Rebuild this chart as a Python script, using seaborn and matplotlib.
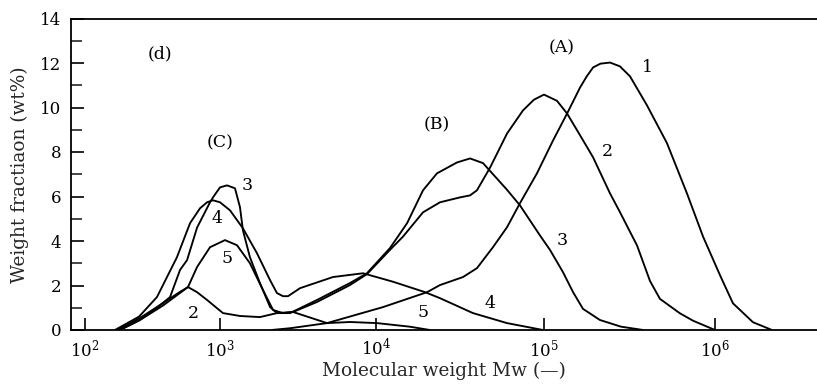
import numpy as np
import pandas as pd
import seaborn as sns
import matplotlib
matplotlib.use("Agg")
import matplotlib.pyplot as plt
from matplotlib.ticker import FixedLocator, FuncFormatter, MultipleLocator

# ---- data: log10(Mw) and weight fraction (wt%) for each run ----
log_mw_1 = [3.33, 3.45, 3.686, 4.042, 4.304, 4.381, 4.518, 4.601, 4.696, 4.78, 4.857, 4.958,
            5.053, 5.135, 5.211, 5.25, 5.287, 5.33, 5.386, 5.444, 5.503, 5.602, 5.719, 5.836,
            5.93, 6.03, 6.105, 6.222, 6.333]
wt_1 = [0.0, 0.08, 0.31, 1.03, 1.70, 2.02, 2.38, 2.78, 3.72, 4.62, 5.7, 7.04,
        8.52, 9.73, 10.9, 11.4, 11.8, 11.97, 12.02, 11.85, 11.4, 10.1, 8.4, 6.14,
        4.2, 2.45, 1.2, 0.35, 0.0]

log_mw_2 = [2.237, 2.407, 2.578, 2.70, 2.763, 2.83, 2.904, 3.019, 3.128, 3.256, 3.365, 3.468,
            3.622, 3.833, 3.942, 4.083, 4.161, 4.28, 4.381, 4.5, 4.56, 4.601, 4.679, 4.78,
            4.875, 4.94, 5.0, 5.076, 5.135, 5.211, 5.287, 5.386, 5.444, 5.544, 5.62,
            5.678, 5.795, 5.871, 6.0]
wt_2 = [0.0, 0.54, 1.21, 1.7, 1.93, 1.7, 1.35, 0.76, 0.63, 0.58, 0.76, 0.81,
        1.26, 2.02, 2.51, 3.6, 4.2, 5.29, 5.74, 5.96, 6.05, 6.28, 7.3, 8.83,
        9.87, 10.35, 10.58, 10.3, 9.73, 8.75, 7.76, 6.14, 5.3, 3.8, 2.2,
        1.4, 0.75, 0.42, 0.0]

log_mw_3 = [2.259, 2.407, 2.533, 2.63, 2.704, 2.756, 2.83, 2.926, 2.948, 3.0, 3.045,
            3.096, 3.128, 3.147, 3.192, 3.256, 3.321, 3.365, 3.449, 3.622, 3.833,
            3.942, 4.083, 4.185, 4.28, 4.363, 4.482, 4.56, 4.637, 4.78, 4.857, 4.976,
            5.035, 5.111, 5.17, 5.228, 5.327, 5.45, 5.58]
wt_3 = [0.0, 0.45, 1.0, 1.48, 2.7, 3.14, 4.6, 5.74, 5.96, 6.41, 6.5,
        6.37, 5.52, 4.48, 3.27, 2.11, 1.03, 0.76, 0.76, 1.35, 2.11,
        2.55, 3.68, 4.8, 6.28, 7.04, 7.53, 7.71, 7.5, 6.3, 5.6, 4.25,
        3.6, 2.6, 1.7, 0.95, 0.45, 0.15, 0.0]

log_mw_4 = [2.222, 2.4, 2.533, 2.681, 2.778, 2.852, 2.904, 2.948, 3.0, 3.064, 3.147,
            3.237, 3.321, 3.365, 3.404, 3.436, 3.513, 3.724, 3.917, 4.101, 4.292,
            4.381, 4.577, 4.78, 4.994]
wt_4 = [0.0, 0.6, 1.48, 3.27, 4.8, 5.47, 5.74, 5.83, 5.74, 5.38, 4.57,
        3.45, 2.24, 1.66, 1.52, 1.52, 1.88, 2.38, 2.55, 2.17, 1.70,
        1.43, 0.76, 0.31, 0.0]

log_mw_5 = [2.259, 2.407, 2.578, 2.763, 2.83, 2.926, 3.032, 3.109, 3.192, 3.276, 3.34,
            3.404, 3.468, 3.686, 3.833, 4.006, 4.2, 4.321]
wt_5 = [0.0, 0.45, 1.1, 1.93, 2.83, 3.72, 4.04, 3.81, 3.0, 1.79, 0.9,
        0.76, 0.81, 0.31, 0.36, 0.31, 0.15, 0.0]

runs = ["1", "2", "3", "4", "5"]
series = [(log_mw_1, wt_1), (log_mw_2, wt_2), (log_mw_3, wt_3),
          (log_mw_4, wt_4), (log_mw_5, wt_5)]

df = pd.concat(
    [pd.DataFrame({"Mw": 10.0 ** np.asarray(lm), "wt": w, "run": r})
     for r, (lm, w) in zip(runs, series)],
    ignore_index=True,
)

# curve labels: (text, log10 Mw, wt%)
curve_labels = [
    ("1", 5.606, 11.8), ("2", 5.368, 8.0), ("3", 5.105, 4.04),
    ("4", 4.679, 1.2), ("5", 4.28, 0.8),
    ("3", 3.173, 6.5), ("4", 2.978, 5.0), ("5", 3.045, 3.2), ("2", 2.80, 0.76),
]
group_labels = [("(A)", 5.105, 12.7), ("(B)", 4.363, 9.2),
                ("(C)", 3.0, 8.43), ("(d)", 2.556, 12.4)]

# ---- log axis with unequal decade widths ----
KL = np.array([2.0, 3.0, 4.0, 5.0, 6.0])
KP = np.array([0.0, 135.0, 291.0, 459.0, 630.0])
S0 = (KP[1] - KP[0]) / (KL[1] - KL[0])
S1 = (KP[-1] - KP[-2]) / (KL[-1] - KL[-2])


def _fwd(x):
    x = np.asarray(x, dtype=float)
    l = np.log10(np.clip(x, 1e-300, None))
    y = np.interp(l, KL, KP)
    y = np.where(l < KL[0], KP[0] + (l - KL[0]) * S0, y)
    y = np.where(l > KL[-1], KP[-1] + (l - KL[-1]) * S1, y)
    return y


def _inv(y):
    y = np.asarray(y, dtype=float)
    l = np.interp(y, KP, KL)
    l = np.where(y < KP[0], KL[0] + (y - KP[0]) / S0, l)
    l = np.where(y > KP[-1], KL[-1] + (y - KP[-1]) / S1, l)
    return 10.0 ** l


sns.set_theme(style="ticks")
plt.rcParams["font.family"] = ["DejaVu Serif"]
plt.rcParams["mathtext.fontset"] = "dejavuserif"

fig = plt.figure(figsize=(8.17, 3.87), dpi=100)
ax = fig.add_axes([71 / 817, 57 / 387, 746 / 817, 311.5 / 387])
ax.set_xscale("function", functions=(_fwd, _inv))

sns.lineplot(data=df, x="Mw", y="wt", units="run", estimator=None,
             color="black", linewidth=1.35, ax=ax, legend=False)

ax.set_xlim(_inv(-14.0), _inv(732.0))
ax.set_ylim(0, 14)

ax.xaxis.set_major_locator(FixedLocator([1e2, 1e3, 1e4, 1e5, 1e6]))
ax.xaxis.set_minor_locator(FixedLocator([]))
ax.xaxis.set_major_formatter(FuncFormatter(lambda v, p: r"$10^{%d}$" % round(np.log10(v))))
ax.yaxis.set_major_locator(MultipleLocator(2))
ax.yaxis.set_minor_locator(MultipleLocator(1))

ax.tick_params(axis="both", which="major", direction="in", length=9, width=1.2,
               labelsize=12, colors="black")
ax.tick_params(axis="y", which="minor", direction="in", length=8, width=1.2)
ax.tick_params(axis="x", which="major", pad=6)
ax.tick_params(axis="y", which="major", pad=7)

for side in ("left", "top", "bottom"):
    ax.spines[side].set_linewidth(1.3)
    ax.spines[side].set_color("black")
ax.spines["right"].set_visible(False)

ax.set_xlabel("Molecular weight Mw (—)", fontsize=13.3, labelpad=1)
ax.set_ylabel("Weight fractiaon (wt%)", fontsize=13.3, labelpad=8)

for txt, lm, w in curve_labels + group_labels:
    ax.text(10.0 ** lm, w, txt, fontsize=12.5, ha="center", va="center", color="black")

fig.savefig("out.png", dpi=100)
